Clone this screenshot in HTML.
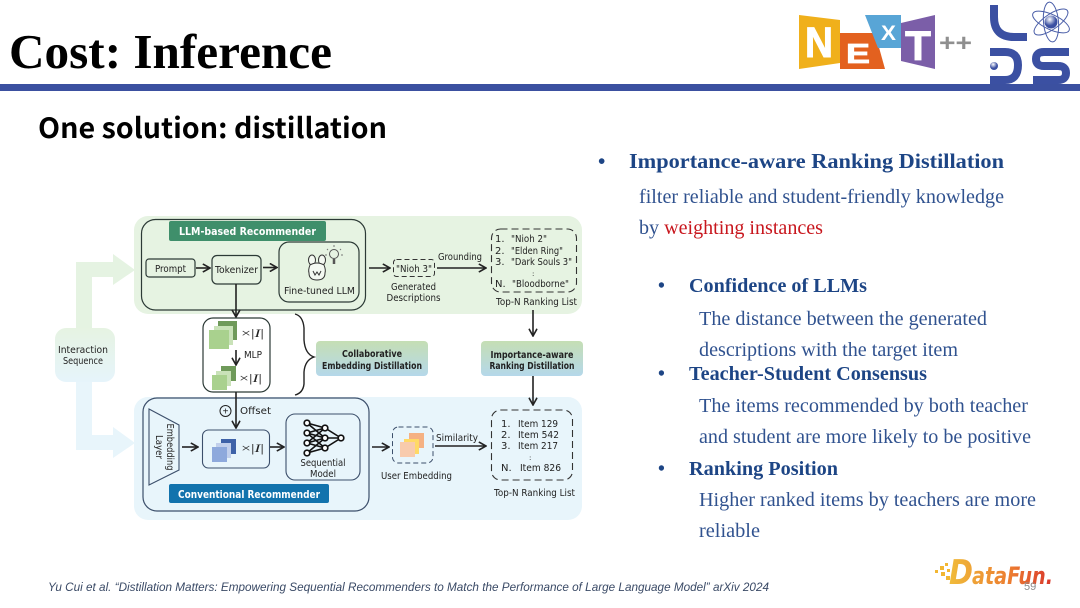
<!DOCTYPE html>
<html><head><meta charset="utf-8"><style>
html,body{margin:0;padding:0;background:#fff;width:1080px;height:608px;overflow:hidden}
svg{display:block}
.d{font-family:"DejaVu Sans",sans-serif;font-size:10px;fill:#222}
.b{font-family:"DejaVu Sans",sans-serif;font-size:10px;font-weight:bold;fill:#222}
.h1{font-family:"Liberation Serif",serif;font-weight:bold;font-size:21px;fill:#1d4585}
.h2{font-family:"Liberation Serif",serif;font-weight:bold;font-size:19.5px;fill:#1d4585}
.s{font-family:"Liberation Serif",serif;font-size:19.5px;fill:#30528f}
.ln{fill:none;stroke:#222;stroke-width:1.6}
.box{fill:none;stroke:#2c3a36;stroke-width:1.2}
</style></head><body>
<svg width="1080" height="608" viewBox="0 0 1080 608" xmlns="http://www.w3.org/2000/svg">
<defs>
<linearGradient id="g1" x1="0" y1="0" x2="0" y2="1"><stop offset="0" stop-color="#e6f3e2"/><stop offset="1" stop-color="#e6f4fb"/></linearGradient>
<linearGradient id="g2" x1="0" y1="0" x2="0" y2="1"><stop offset="0" stop-color="#c5deb4"/><stop offset="1" stop-color="#b5d8ea"/></linearGradient>
<linearGradient id="g3" gradientUnits="userSpaceOnUse" x1="950" y1="0" x2="1053" y2="0"><stop offset="0" stop-color="#f0bb3a"/><stop offset="0.6" stop-color="#ec7a30"/><stop offset="1" stop-color="#d8362c"/></linearGradient>
<radialGradient id="g4" cx="0.4" cy="0.3" r="0.8"><stop offset="0" stop-color="#fff"/><stop offset="0.6" stop-color="#3b50a2"/></radialGradient>
<marker id="a" viewBox="0 0 10 10" refX="9" refY="5" markerWidth="9" markerHeight="9" markerUnits="userSpaceOnUse" orient="auto"><path d="M1 0.5L9 5L1 9.5" fill="none" stroke="#222" stroke-width="1.800"/></marker>
</defs>

<!-- header -->
<text x="9" y="68" font-family="Liberation Serif,serif" font-weight="bold" font-size="49" textLength="323" lengthAdjust="spacingAndGlyphs" fill="#000">Cost: Inference</text>
<rect x="0" y="84" width="1080" height="7" fill="#3b50a0"/>
<text x="38" y="138" font-family="'Noto Sans CJK SC',sans-serif" font-weight="700" font-size="28" textLength="349" lengthAdjust="spacingAndGlyphs" fill="#000">One solution: distillation</text>

<!-- NEXT logo -->
<polygon points="799,15 840,20 840,63 799,69" fill="#f0b01b"/>
<polygon points="840,33 875,33 885,69 840,69" fill="#e3611f"/>
<polygon points="865,15 901,15 901,48 878,48" fill="#58a5d6"/>
<polygon points="901,23 935,15 935,69 901,61" fill="#7b5ea8"/>
<text x="805" y="57" font-family="Liberation Sans,sans-serif" font-weight="bold" font-size="43" fill="#fff" stroke="#fff" stroke-width="1" textLength="28" lengthAdjust="spacingAndGlyphs">N</text>
<text x="846" y="63" font-family="Liberation Sans,sans-serif" font-weight="bold" font-size="28" fill="#fff" stroke="#fff" stroke-width="0.800" textLength="24" lengthAdjust="spacingAndGlyphs">E</text>
<text x="881" y="40" font-family="Liberation Sans,sans-serif" font-weight="bold" font-size="21" fill="#fff" textLength="15" lengthAdjust="spacingAndGlyphs">X</text>
<text x="905" y="60" font-family="Liberation Sans,sans-serif" font-weight="bold" font-size="42" fill="#fff" stroke="#fff" stroke-width="0.800" textLength="26" lengthAdjust="spacingAndGlyphs">T</text>
<text x="939" y="51" font-family="Liberation Sans,sans-serif" font-weight="bold" font-size="24" fill="#8f8f8f" textLength="33" lengthAdjust="spacingAndGlyphs">++</text>

<!-- LDS logo -->
<path d="M994 5V17Q994 37 1014 37H1027" fill="none" stroke="#3b50a2" stroke-width="8"/>
<path d="M990 52H1005Q1018 52 1018 65Q1018 80 1005 80H990" fill="none" stroke="#3b50a2" stroke-width="8"/>
<circle cx="994" cy="66" r="4" fill="url(#g4)"/>
<path d="M1069 52H1044Q1036 52 1036 59Q1036 66 1044 66H1058Q1066 66 1066 73Q1066 80 1058 80H1033" fill="none" stroke="#3b50a2" stroke-width="8"/>
<g fill="none" stroke="#4a5ea8" stroke-width="1">
<ellipse cx="1051" cy="22" rx="20" ry="7.500" transform="rotate(25 1051 22)"/>
<ellipse cx="1051" cy="22" rx="20" ry="7.500" transform="rotate(85 1051 22)"/>
<ellipse cx="1051" cy="22" rx="20" ry="7.500" transform="rotate(-35 1051 22)"/>
</g>
<circle cx="1051" cy="22" r="6.500" fill="url(#g4)"/>

<!-- big arrows -->
<path d="M76 330V262H113V254L135 270L113 285V277H92V330Z" fill="#e5f3e2"/>
<path d="M76 380V450H113V458L135 443L113 427V435H92V380Z" fill="#e8f5fb"/>
<rect x="55" y="328" width="60" height="54" rx="11" fill="url(#g1)"/>
<text class="d" x="83" y="353" text-anchor="middle" textLength="50" lengthAdjust="spacingAndGlyphs">Interaction</text>
<text class="d" x="83" y="364" text-anchor="middle" textLength="40" lengthAdjust="spacingAndGlyphs">Sequence</text>

<!-- panels -->
<rect x="134" y="216" width="448" height="98" rx="14" fill="#e6f3e2"/>
<rect x="134" y="397" width="448" height="123" rx="14" fill="#e8f5fb"/>

<!-- LLM recommender -->
<rect class="box" x="141.500" y="219.500" width="224" height="90.500" rx="14"/>
<rect x="169" y="221" width="157" height="20" rx="2" fill="#3f8f6b"/>
<text x="247.500" y="235" text-anchor="middle" font-family="DejaVu Sans,sans-serif" font-size="11" font-weight="bold" fill="#fff" textLength="137" lengthAdjust="spacingAndGlyphs">LLM-based Recommender</text>
<rect class="box" x="146" y="259" width="49" height="18" rx="3"/>
<text class="d" x="170.500" y="272" text-anchor="middle" textLength="31" lengthAdjust="spacingAndGlyphs">Prompt</text>
<line class="ln" x1="196" y1="268" x2="210" y2="268" marker-end="url(#a)"/>
<rect class="box" x="212" y="255.500" width="49" height="28.500" rx="5"/>
<text class="d" x="236.500" y="273" text-anchor="middle" textLength="43" lengthAdjust="spacingAndGlyphs">Tokenizer</text>
<line class="ln" x1="263" y1="267.500" x2="277" y2="267.500" marker-end="url(#a)"/>
<rect class="box" x="279" y="242" width="80" height="60" rx="10"/>
<text class="d" x="319.500" y="294" text-anchor="middle" textLength="71" lengthAdjust="spacingAndGlyphs">Fine-tuned LLM</text>
<ellipse cx="312" cy="260" rx="3.500" ry="5" fill="#f4f9f2" stroke="#333" stroke-width="1"/>
<ellipse cx="322" cy="260" rx="3.500" ry="5" fill="#f4f9f2" stroke="#333" stroke-width="1"/>
<path d="M310 265Q317 261 324 265Q326 270 325 273Q325 280 317 280Q309 280 309 273Q308 270 310 265Z" fill="#f4f9f2" stroke="#333" stroke-width="1"/>
<path d="M313 271L315 275L317 272L319 275L321 271" fill="none" stroke="#333" stroke-width="1"/>
<circle cx="334" cy="254" r="4.500" fill="none" stroke="#555"/>
<line x1="334" y1="259" x2="334" y2="264" stroke="#555" stroke-width="2.500"/>
<path d="M334 247V245M328 250L327 249M340 250L341 249M327 255H325M341 255H343" stroke="#777" fill="none"/>

<!-- Generated -->
<line class="ln" x1="369" y1="268" x2="390" y2="268" marker-end="url(#a)"/>
<rect x="393.500" y="259.500" width="41" height="17" rx="3" fill="none" stroke="#333" stroke-dasharray="5 3"/>
<text class="d" x="414" y="272" text-anchor="middle" textLength="36" lengthAdjust="spacingAndGlyphs">"Nioh 3"</text>
<text class="d" x="413.500" y="290" text-anchor="middle" textLength="45" lengthAdjust="spacingAndGlyphs">Generated</text>
<text class="d" x="413.500" y="301" text-anchor="middle" textLength="54" lengthAdjust="spacingAndGlyphs">Descriptions</text>
<text class="d" x="438" y="260" textLength="44" lengthAdjust="spacingAndGlyphs">Grounding</text>
<line class="ln" x1="437" y1="268" x2="486" y2="268" marker-end="url(#a)"/>
<rect x="491.500" y="229" width="85" height="63" rx="9" fill="none" stroke="#333" stroke-width="1.100" stroke-dasharray="7 4"/>
<text class="d" x="495" y="242">1.</text><text class="d" x="511" y="242" textLength="36" lengthAdjust="spacingAndGlyphs">"Nioh 2"</text>
<text class="d" x="495" y="254">2.</text><text class="d" x="511" y="254" textLength="52" lengthAdjust="spacingAndGlyphs">"Elden Ring"</text>
<text class="d" x="495" y="265">3.</text><text class="d" x="511" y="265" textLength="61" lengthAdjust="spacingAndGlyphs">"Dark Souls 3"</text>
<text class="d" x="532" y="276" style="font-size:7px">:</text>
<text class="d" x="495" y="287">N.</text><text class="d" x="512" y="287" textLength="57" lengthAdjust="spacingAndGlyphs">"Bloodborne"</text>
<text class="d" x="496" y="305" textLength="81" lengthAdjust="spacingAndGlyphs">Top-N Ranking List</text>
<line class="ln" x1="533" y1="310" x2="533" y2="336" marker-end="url(#a)"/>

<!-- Middle block -->
<line class="ln" x1="236" y1="284" x2="236" y2="317" marker-end="url(#a)"/>
<rect x="203" y="318" width="67" height="74" rx="10" fill="#fff" stroke="#2c3a36" stroke-width="1.200"/>
<rect x="218" y="321" width="19" height="19" fill="#6f9a5a"/>
<rect x="214" y="326" width="19" height="19" fill="#c9e2b8"/>
<rect x="209" y="330" width="20" height="19" fill="#a9d18e"/>
<text x="241" y="337" font-family="Liberation Serif,serif" font-size="12" fill="#222" textLength="23" lengthAdjust="spacingAndGlyphs">×|<tspan font-style="italic">I</tspan>|</text>
<line class="ln" x1="236" y1="350" x2="236" y2="365" marker-end="url(#a)"/>
<text class="d" x="244" y="358" textLength="18" lengthAdjust="spacingAndGlyphs">MLP</text>
<rect x="221" y="366" width="15" height="15" fill="#6f9a5a"/>
<rect x="216" y="371" width="15" height="15" fill="#c9e2b8"/>
<rect x="212" y="375" width="15" height="15" fill="#a9d18e"/>
<text x="239" y="382" font-family="Liberation Serif,serif" font-size="12" fill="#222" textLength="23" lengthAdjust="spacingAndGlyphs">×|<tspan font-style="italic">I</tspan>|</text>
<path d="M295 314Q303 316 304 328V340Q305 354 314 357Q305 360 304 372V384Q303 393 295 395" fill="none" stroke="#222" stroke-width="1.400"/>
<rect x="316" y="341" width="112" height="35" rx="4" fill="url(#g2)"/>
<text class="b" x="372" y="357" text-anchor="middle" textLength="60" lengthAdjust="spacingAndGlyphs">Collaborative</text>
<text class="b" x="372" y="369" text-anchor="middle" textLength="100" lengthAdjust="spacingAndGlyphs">Embedding Distillation</text>
<rect x="481" y="341" width="102" height="35" rx="4" fill="url(#g2)"/>
<text class="b" x="532" y="358" text-anchor="middle" textLength="83" lengthAdjust="spacingAndGlyphs">Importance-aware</text>
<text class="b" x="532" y="369" text-anchor="middle" textLength="85" lengthAdjust="spacingAndGlyphs">Ranking Distillation</text>

<!-- Conventional -->
<rect x="143" y="398" width="226" height="113" rx="14" fill="none" stroke="#3c4f6b" stroke-width="1.200"/>
<line class="ln" x1="236" y1="392" x2="236" y2="428" marker-end="url(#a)"/>
<circle cx="225.500" cy="411" r="5.500" fill="none" stroke="#222"/>
<text x="225.500" y="414.500" text-anchor="middle" font-family="Liberation Sans,sans-serif" font-size="10" fill="#222">+</text>
<text class="d" x="240" y="414" textLength="31" lengthAdjust="spacingAndGlyphs">Offset</text>
<polygon points="149,409 179,425 179,470 149,485" fill="none" stroke="#3c4f6b" stroke-width="1.100"/>
<text class="d" transform="translate(167,447) rotate(90)" text-anchor="middle" textLength="47" lengthAdjust="spacingAndGlyphs">Embedding</text>
<text class="d" transform="translate(156,447) rotate(90)" text-anchor="middle" textLength="24" lengthAdjust="spacingAndGlyphs">Layer</text>
<line class="ln" x1="182" y1="447" x2="198" y2="447" marker-end="url(#a)"/>
<rect x="202.500" y="430" width="67" height="38" rx="6" fill="none" stroke="#3c4f6b" stroke-width="1.100"/>
<rect x="221" y="439" width="15" height="15" fill="#3e62a8"/>
<rect x="216" y="443" width="15" height="15" fill="#c2d0ec"/>
<rect x="212" y="447" width="15" height="15" fill="#8ea9dc"/>
<text x="241" y="452" font-family="Liberation Serif,serif" font-size="12" fill="#222" textLength="23" lengthAdjust="spacingAndGlyphs">×|<tspan font-style="italic">I</tspan>|</text>
<line class="ln" x1="270" y1="447" x2="284" y2="447" marker-end="url(#a)"/>
<rect x="286" y="414" width="74" height="66" rx="9" fill="none" stroke="#3c4f6b" stroke-width="1.100"/>
<g stroke="#111" stroke-width="1.600" fill="none">
<path d="M307 423L325 428L341 438M307 423L325 438M307 433L325 428M307 433L325 438M307 433L325 448M307 443L325 428M307 443L325 438M307 443L325 448M307 453L325 438M307 453L325 448L341 438M325 438H341"/>
</g>
<g fill="#fff" stroke="#111" stroke-width="1.700">
<circle cx="307" cy="423" r="2.800"/><circle cx="307" cy="433" r="2.800"/><circle cx="307" cy="443" r="2.800"/><circle cx="307" cy="453" r="2.800"/>
<circle cx="325" cy="428" r="2.800"/><circle cx="325" cy="438" r="2.800"/><circle cx="325" cy="448" r="2.800"/>
<circle cx="341" cy="438" r="2.800"/>
</g>
<text class="d" x="323" y="466" text-anchor="middle" textLength="45" lengthAdjust="spacingAndGlyphs">Sequential</text>
<text class="d" x="323" y="477" text-anchor="middle" textLength="26" lengthAdjust="spacingAndGlyphs">Model</text>
<rect x="169" y="484" width="160" height="19" rx="2" fill="#1273ad"/>
<text x="249" y="498" text-anchor="middle" font-family="DejaVu Sans,sans-serif" font-size="11" font-weight="bold" fill="#fff" textLength="142" lengthAdjust="spacingAndGlyphs">Conventional Recommender</text>

<!-- User embedding -->
<line class="ln" x1="372" y1="447" x2="389" y2="447" marker-end="url(#a)"/>
<rect x="392.500" y="427" width="40.500" height="36" rx="6" fill="none" stroke="#3c4f6b" stroke-dasharray="5 3"/>
<rect x="409" y="433" width="15" height="15" fill="#f5b183"/>
<rect x="404" y="439" width="15" height="15" fill="#ffd966"/>
<rect x="400" y="442" width="15" height="15" fill="#f8cbad"/>
<text class="d" x="381" y="479" textLength="71" lengthAdjust="spacingAndGlyphs">User Embedding</text>
<text class="d" x="436" y="441" textLength="42" lengthAdjust="spacingAndGlyphs">Similarity</text>
<line class="ln" x1="435" y1="446" x2="486" y2="446" marker-end="url(#a)"/>
<rect x="491.500" y="410" width="81" height="70" rx="9" fill="none" stroke="#333" stroke-width="1.100" stroke-dasharray="7 4"/>
<line class="ln" x1="533" y1="376" x2="533" y2="405" marker-end="url(#a)"/>
<text class="d" x="501" y="427">1.</text><text class="d" x="518" y="427" textLength="40" lengthAdjust="spacingAndGlyphs">Item 129</text>
<text class="d" x="501" y="438">2.</text><text class="d" x="518" y="438" textLength="41" lengthAdjust="spacingAndGlyphs">Item 542</text>
<text class="d" x="501" y="449">3.</text><text class="d" x="518" y="449" textLength="40" lengthAdjust="spacingAndGlyphs">Item 217</text>
<text class="d" x="529" y="460" style="font-size:7px">:</text>
<text class="d" x="501" y="471">N.</text><text class="d" x="520" y="471" textLength="41" lengthAdjust="spacingAndGlyphs">Item 826</text>
<text class="d" x="494" y="496" textLength="81" lengthAdjust="spacingAndGlyphs">Top-N Ranking List</text>

<!-- Right text -->
<text class="h1" x="598" y="168">•</text>
<text class="h1" x="629" y="168" textLength="375" lengthAdjust="spacingAndGlyphs">Importance-aware Ranking Distillation</text>
<text class="s" x="639" y="203" textLength="365" lengthAdjust="spacingAndGlyphs">filter reliable and student-friendly knowledge</text>
<text class="s" x="639" y="234" textLength="184" lengthAdjust="spacingAndGlyphs">by <tspan fill="#c8161d">weighting instances</tspan></text>
<text class="h2" x="658" y="292">•</text>
<text class="h2" x="689" y="292" textLength="178" lengthAdjust="spacingAndGlyphs">Confidence of LLMs</text>
<text class="s" x="699" y="325" textLength="288" lengthAdjust="spacingAndGlyphs">The distance between the generated</text>
<text class="s" x="699" y="356" textLength="259" lengthAdjust="spacingAndGlyphs">descriptions with the target item</text>
<text class="h2" x="658" y="380">•</text>
<text class="h2" x="689" y="380" textLength="238" lengthAdjust="spacingAndGlyphs">Teacher-Student Consensus</text>
<text class="s" x="699" y="412" textLength="329" lengthAdjust="spacingAndGlyphs">The items recommended by both teacher</text>
<text class="s" x="699" y="443" textLength="332" lengthAdjust="spacingAndGlyphs">and student are more likely to be positive</text>
<text class="h2" x="658" y="475">•</text>
<text class="h2" x="689" y="475" textLength="149" lengthAdjust="spacingAndGlyphs">Ranking Position</text>
<text class="s" x="699" y="506" textLength="337" lengthAdjust="spacingAndGlyphs">Higher ranked items by teachers are more</text>
<text class="s" x="699" y="537" textLength="61" lengthAdjust="spacingAndGlyphs">reliable</text>

<!-- Footer -->
<text x="48" y="591" font-family="Liberation Sans,sans-serif" font-style="italic" font-size="12" fill="#3a4a66" textLength="721" lengthAdjust="spacingAndGlyphs">Yu Cui et al. “Distillation Matters: Empowering Sequential Recommenders to Match the Performance of Large Language Model” arXiv 2024</text>

<!-- DataFun logo -->
<g fill="#f2b632">
<rect x="935" y="570" width="3" height="3"/><rect x="940" y="566" width="4" height="4"/><rect x="945" y="563" width="3" height="3"/>
<rect x="941" y="572" width="4" height="4"/><rect x="947" y="569" width="3" height="3"/><rect x="946" y="576" width="4" height="4"/>
</g>
<text x="949" y="584" font-family="DejaVu Sans,sans-serif" font-weight="bold" font-style="italic" font-size="34" fill="url(#g3)" textLength="24" lengthAdjust="spacingAndGlyphs">D</text>
<text x="972" y="584" font-family="DejaVu Sans,sans-serif" font-weight="bold" font-style="italic" font-size="24" fill="url(#g3)" textLength="81" lengthAdjust="spacingAndGlyphs">ataFun.</text>
<text x="1024" y="590" font-family="Liberation Sans,sans-serif" font-size="11" fill="#8a8a8a">59</text>
</svg>
</body></html>
